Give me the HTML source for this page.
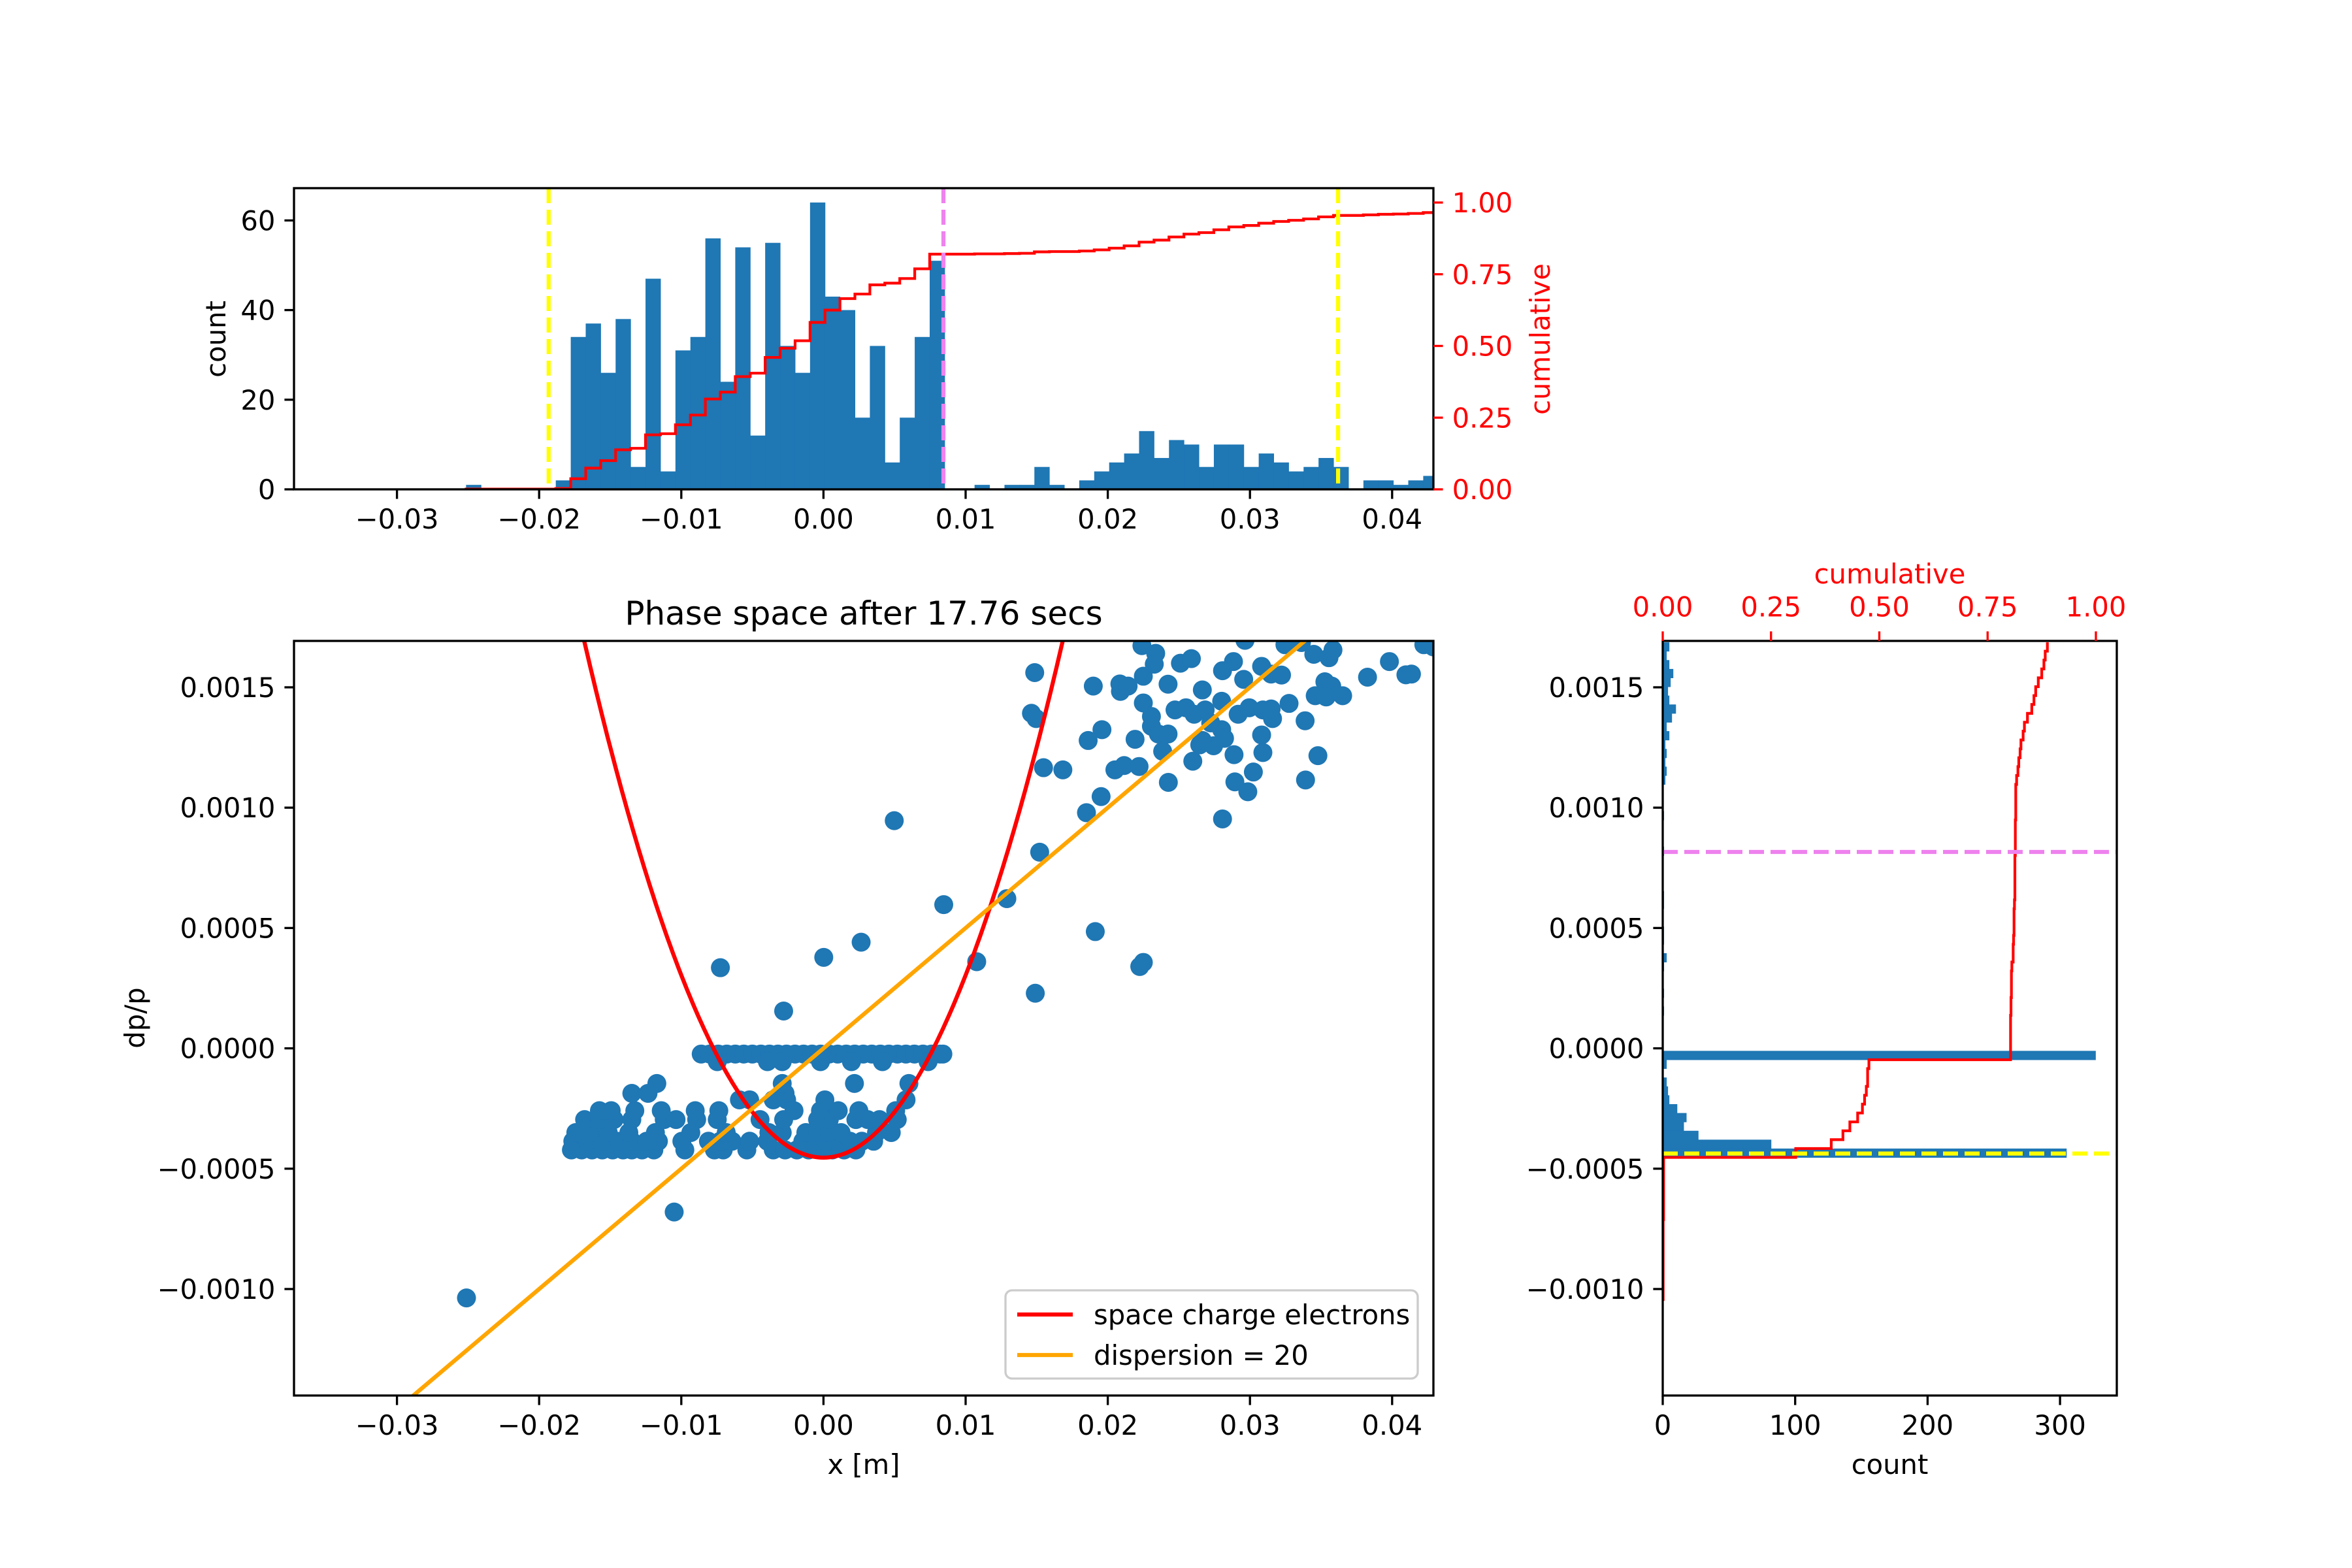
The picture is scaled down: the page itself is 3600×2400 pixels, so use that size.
<!DOCTYPE html>
<html><head><meta charset="utf-8"><style>
html,body{margin:0;padding:0;background:#fff}
svg{display:block}
text{font-family:"DejaVu Sans","Liberation Sans",sans-serif}
</style></head><body>
<svg id="fig" xmlns="http://www.w3.org/2000/svg" width="3600" height="2400" viewBox="0 0 3600 2400">
<rect x="0" y="0" width="3600" height="2400" fill="#fff"/>
<g id="layer"></g>
</svg>
<script>
// ---- data: top histogram of x ----
const xBinStart = -0.02514;
const xBinWidth = 0.001052;
const xCounts = [1,0,0,0,0,0,2,34,37,26,38,5,47,4,31,34,56,24,54,12,55,32,26,64,43,40,16,32,6,16,34,51,0,0,1,0,1,1,5,1,0,2,4,6,8,13,7,11,10,5,10,10,5,8,6,4,5,7,5,0,2,2,1,2,3];
const totalParticles = 1000;
const xThresholds = [-0.01933, 0.0362];
const xCenterLine = [0.00844];
// ---- data: right histogram of dp/p ----
const dpBinTop = 0.001687;
const dpBinWidth = 0.0000369;
const dpCounts = [5,3,5,8,6,4,5,10,7,3,5,2,3,2,3,2,0,0,0,1,0,0,0,1,0,0,0,0,1,1,0,0,1,1,0,3,1,0,0,1,0,1,0,0,0,0,327,3,0,3,4,5,11,18,16,27,82,305,0,0,0,0,0,0,1,0,0,0,0,0,0,0,0,1];
const dpThreshold = [-0.000437];
const dpCenterLine = [0.000816];
// ---- data: scatter points ----
const scatterX = [
-0.01773,-0.01701,-0.01628,-0.01556,-0.01483,-0.01410,-0.01348,-0.01276,-0.01193,-0.00975,-0.00767,-0.00705,-0.00539,-0.00353,-0.00270,-0.00187,-0.00104,-0.00021,0.00062,0.00145,0.00228,
-0.01763,-0.01659,-0.01556,-0.01452,-0.01348,-0.01244,-0.01161,-0.00996,-0.00809,-0.00726,-0.00643,-0.00519,-0.00394,-0.00145,-0.00062,0.00021,0.00104,0.00187,0.00270,0.00353,
-0.01742,-0.01638,-0.01514,-0.01369,-0.01182,-0.00933,-0.00684,-0.00384,-0.00290,-0.00124,-0.00041,0.00041,0.00124,0.00373,0.00477,
-0.01680,-0.01576,-0.01473,-0.01348,-0.01120,-0.01037,-0.00892,-0.00747,-0.00446,-0.00280,-0.00041,0.00041,0.00228,0.00311,0.00394,0.00519,
-0.01576,-0.01493,-0.01327,-0.01141,-0.00902,-0.00736,-0.00207,-0.00021,0.00104,0.00249,0.00508,
-0.00591,-0.00519,-0.00353,-0.00259,0.00010,0.00581,
-0.01348,-0.01234,-0.00270,
-0.01172,-0.00290,0.00218,0.00601,
-0.0086,-0.0080,-0.0074,-0.0068,-0.0062,-0.0056,-0.0050,-0.0044,-0.0038,-0.0032,-0.0026,-0.0020,-0.0014,-0.0008,-0.0002,0.0004,0.0010,0.0016,0.0022,0.0028,0.0034,0.0040,0.0046,0.0052,0.0058,0.0064,0.0070,0.0076,0.0082,0.0084,
-0.00747,-0.00394,-0.00290,-0.00021,0.00197,0.00415,0.00736,
-0.00280,-0.01050,-0.02511,-0.00725,0.00002,0.00265,0.00498,0.00846,0.01078,0.01290,0.01490,0.01521,0.01912,0.02250,0.02225,
0.01486,0.01463,0.01496,0.01548,0.01684,0.01898,0.02085,0.02089,0.02143,0.02250,0.02250,0.02307,0.02307,0.02356,0.02424,0.02424,0.02386,0.02426,0.02240,0.02337,0.02327,0.02511,0.02588,0.02807,0.02884,0.02956,0.02965,0.03082,0.03149,0.03222,0.03246,0.03362,0.03449,0.03556,0.03584,0.03527,0.03575,0.03459,0.03536,0.03652,0.03827,0.03981,0.04097,0.04136,0.04223,0.04290,0.02665,0.02473,0.02550,0.02607,0.02685,0.02801,0.02724,0.02801,0.02821,0.02917,0.02995,0.03091,0.03159,0.03149,0.03275,0.03388,0.03082,0.03091,0.03024,0.02894,0.02985,0.02807,0.02888,0.02598,0.02647,0.02744,0.02665,0.02192,0.01959,0.01862,0.02050,0.02115,0.02220,0.01953,0.01850,0.03391,0.03478
];
const scatterDP = [
-0.000422,-0.000422,-0.000422,-0.000422,-0.000422,-0.000422,-0.000422,-0.000422,-0.000422,-0.000422,-0.000422,-0.000422,-0.000422,-0.000422,-0.000422,-0.000422,-0.000422,-0.000422,-0.000422,-0.000422,-0.000422,
-0.000386,-0.000386,-0.000386,-0.000386,-0.000386,-0.000386,-0.000386,-0.000386,-0.000386,-0.000386,-0.000386,-0.000386,-0.000386,-0.000386,-0.000386,-0.000386,-0.000386,-0.000386,-0.000386,-0.000386,
-0.000350,-0.000350,-0.000350,-0.000350,-0.000350,-0.000350,-0.000350,-0.000350,-0.000350,-0.000350,-0.000350,-0.000350,-0.000350,-0.000350,-0.000350,
-0.000296,-0.000296,-0.000296,-0.000296,-0.000296,-0.000296,-0.000296,-0.000296,-0.000296,-0.000296,-0.000296,-0.000296,-0.000296,-0.000296,-0.000296,-0.000296,
-0.000259,-0.000259,-0.000259,-0.000259,-0.000259,-0.000259,-0.000259,-0.000259,-0.000259,-0.000259,-0.000259,
-0.000214,-0.000214,-0.000214,-0.000214,-0.000214,-0.000214,
-0.000187,-0.000187,-0.000187,
-0.000146,-0.000146,-0.000146,-0.000146,
-0.0000237,-0.0000237,-0.0000237,-0.0000237,-0.0000237,-0.0000237,-0.0000237,-0.0000237,-0.0000237,-0.0000237,-0.0000237,-0.0000237,-0.0000237,-0.0000237,-0.0000237,-0.0000237,-0.0000237,-0.0000237,-0.0000237,-0.0000237,-0.0000237,-0.0000237,-0.0000237,-0.0000237,-0.0000237,-0.0000237,-0.0000237,-0.0000237,-0.0000237,-0.0000237,
-0.0000554,-0.0000554,-0.0000554,-0.0000554,-0.0000554,-0.0000554,-0.0000554,
0.000155,-0.00068,-0.001037,0.000335,0.000378,0.000441,0.000946,0.000597,0.00036,0.000622,0.000229,0.000815,0.000485,0.000357,0.00034,
0.001561,0.001392,0.001370,0.001166,0.001157,0.001505,0.001514,0.001483,0.001505,0.001546,0.001435,0.001379,0.001338,0.001306,0.001306,0.001513,0.001234,0.001105,0.001673,0.001641,0.001596,0.001600,0.001619,0.001569,0.001607,0.001533,0.001695,0.001587,0.001555,0.001551,0.001677,0.001686,0.001637,0.001623,0.001655,0.001523,0.001505,0.001465,0.001460,0.001465,0.001542,0.001607,0.001552,0.001555,0.001677,0.001668,0.001489,0.001406,0.001415,0.001388,0.001406,0.001442,0.001352,0.001324,0.001288,0.001388,0.001415,0.001406,0.001370,0.001410,0.001433,0.001361,0.001302,0.001229,0.001148,0.001107,0.001066,0.000953,0.001220,0.001193,0.001261,0.001257,0.001279,0.001284,0.001324,0.001279,0.001157,0.001175,0.001171,0.001046,0.000979,0.001115,0.001216
];
const parabolaMinDP = -0.000454;
const parabolaCoef = 7.58;
const dispersion = 20;
const dispersionOffset = 0.0;
const xTicks = [-0.03,-0.02,-0.01,0.00,0.01,0.02,0.03,0.04];
const xTickLabels = ["\u22120.03","\u22120.02","\u22120.01","0.00","0.01","0.02","0.03","0.04"];
const dpTicks = [0.0015,0.0010,0.0005,0.0,-0.0005,-0.0010];
const dpTickLabels = ["0.0015","0.0010","0.0005","0.0000","\u22120.0005","\u22120.0010"];
const countTicks = [0,20,40,60];
const cumTicks = [0,0.25,0.5,0.75,1.0];
const cumTickLabels = ["0.00","0.25","0.50","0.75","1.00"];
const rCountTicks = [0,100,200,300];

// ---- layout ----
const L = 450, R = 2194, MT = 981, MB = 2136;
const HT = 288, HB = 749;
const RL = 2545, RR = 3240;
const FS = 41.7, TK = 14.6, LW = 3.33;
const BLUE = "#1f77b4";

const sx = x => 1260.4 + x * 21760;
const sy = d => 1604.6 - d * 368400;
const hy = c => HB - c * 6.86;
const hcum = v => HB - v * 439;
const rcx = c => RL + c * 2.027;
const rcum = v => RL + v * 663;

const NS = "http://www.w3.org/2000/svg";
const layer = document.getElementById("layer");
function mk(tag, attrs, parent) {
  const e = document.createElementNS(NS, tag);
  for (const k in attrs) e.setAttribute(k, attrs[k]);
  (parent || layer).appendChild(e);
  return e;
}
function txt(s, x, y, opts, parent) {
  const e = mk("text", Object.assign({x: x, y: y, "font-size": FS, fill: "#000"}, opts || {}), parent);
  e.textContent = s;
  return e;
}
function clip(id, x, y, w, h) {
  const c = mk("clipPath", {id: id});
  mk("rect", {x: x, y: y, width: w, height: h}, c);
}
clip("cTop", L, HT, R - L, HB - HT);
clip("cMain", L, MT, R - L, MB - MT);
clip("cRight", RL, MT, RR - RL, MB - MT);

// ================= TOP HISTOGRAM =================
const gTop = mk("g", {"clip-path": "url(#cTop)"});


xCounts.forEach((c, i) => {
  if (c <= 0) return;
  const x0 = sx(xBinStart + i * xBinWidth), x1 = sx(xBinStart + (i + 1) * xBinWidth);
  const r = mk("rect", {x: x0, y: hy(c), width: x1 - x0 + 0.5, height: HB - hy(c), fill: BLUE}, gTop);
  
  
});
let cum = 0, pts = [[sx(xBinStart), hcum(0)]];
xCounts.forEach((c, i) => {
  cum += c;
  const x0 = sx(xBinStart + i * xBinWidth), x1 = sx(xBinStart + (i + 1) * xBinWidth);
  pts.push([x0, hcum(cum / totalParticles)]);
  pts.push([x1, hcum(cum / totalParticles)]);
});
const cumTop = mk("polyline", {points: pts.map(p => p.join(",")).join(" "), fill: "none", stroke: "#ff0000", "stroke-width": 4.17}, gTop);


xThresholds.forEach(v => {
  const l = mk("line", {x1: sx(v), x2: sx(v), y1: HT, y2: HB, stroke: "#ffff00", "stroke-width": 6.25, "stroke-dasharray": "23 10"}, gTop);
  
  
});
xCenterLine.forEach(v => {
  const l = mk("line", {x1: sx(v), x2: sx(v), y1: HT, y2: HB, stroke: "#ee82ee", "stroke-width": 6.25, "stroke-dasharray": "23 10"}, gTop);
  
  
});
const topFrame = mk("rect", {x: L, y: HT, width: R - L, height: HB - HT, fill: "none", stroke: "#000", "stroke-width": LW});


xTicks.forEach((v, i) => {
  mk("line", {x1: sx(v), x2: sx(v), y1: HB, y2: HB + TK, stroke: "#000", "stroke-width": LW});
  const t = txt(xTickLabels[i], sx(v), HB + 60, {"text-anchor": "middle"});
  
  
});
countTicks.forEach(v => {
  mk("line", {x1: L - TK, x2: L, y1: hy(v), y2: hy(v), stroke: "#000", "stroke-width": LW});
  const t = txt(String(v), L - TK - 14, hy(v) + 15, {"text-anchor": "end"});
  
  
});
cumTicks.forEach((v, i) => {
  mk("line", {x1: R, x2: R + TK, y1: hcum(v), y2: hcum(v), stroke: "#ff0000", "stroke-width": LW});
  const t = txt(cumTickLabels[i], R + TK + 14, hcum(v) + 15, {"text-anchor": "start", fill: "#ff0000"});
  
  
});
const topYl = txt("count", 0, 0, {"text-anchor": "middle", transform: "translate(345,519) rotate(-90)"});


const topYr = txt("cumulative", 0, 0, {"text-anchor": "middle", fill: "#ff0000", transform: "translate(2372,519) rotate(-90)"});



// ================= MAIN SCATTER =================
const gMain = mk("g", {"clip-path": "url(#cMain)"});


scatterX.forEach((x, i) => {
  const c = mk("circle", {cx: sx(x), cy: sy(scatterDP[i]), r: 14.5, fill: BLUE}, gMain);
  
  
});
let pp = [];
for (let k = 0; k <= 200; k++) {
  const x = -0.02 + k * 0.0002;
  pp.push(sx(x).toFixed(1) + "," + sy(parabolaMinDP + parabolaCoef * x * x).toFixed(1));
}
const para = mk("polyline", {points: pp.join(" "), fill: "none", stroke: "#ff0000", "stroke-width": 6.25}, gMain);


const dl = mk("line", {x1: sx(-0.04), y1: sy(-0.04 / dispersion + dispersionOffset), x2: sx(0.045), y2: sy(0.045 / dispersion + dispersionOffset), stroke: "#ffa500", "stroke-width": 6.25}, gMain);


const mainFrame = mk("rect", {x: L, y: MT, width: R - L, height: MB - MT, fill: "none", stroke: "#000", "stroke-width": LW});


xTicks.forEach((v, i) => {
  mk("line", {x1: sx(v), x2: sx(v), y1: MB, y2: MB + TK, stroke: "#000", "stroke-width": LW});
  const t = txt(xTickLabels[i], sx(v), MB + 60, {"text-anchor": "middle"});
  
  
});
dpTicks.forEach((v, i) => {
  mk("line", {x1: L - TK, x2: L, y1: sy(v), y2: sy(v), stroke: "#000", "stroke-width": LW});
  const t = txt(dpTickLabels[i], L - TK - 14, sy(v) + 15, {"text-anchor": "end"});
  
  
  mk("line", {x1: RL - TK, x2: RL, y1: sy(v), y2: sy(v), stroke: "#000", "stroke-width": LW});
  const t2 = txt(dpTickLabels[i], RL - TK - 14, sy(v) + 15, {"text-anchor": "end"});
  
  
});
const title = txt("Phase space after 17.76 secs", (L + R) / 2, 956, {"text-anchor": "middle", "font-size": 50});


const xl = txt("x [m]", (L + R) / 2, 2256, {"text-anchor": "middle"});


const yl = txt("dp/p", 0, 0, {"text-anchor": "middle", transform: "translate(221,1558) rotate(-90)"});



// legend
const lg = mk("g", {});


mk("rect", {x: 1539, y: 1975, width: 631, height: 135, rx: 10, fill: "#fff", "fill-opacity": 0.8, stroke: "#cccccc", "stroke-width": 3.33}, lg);
const le1 = mk("line", {x1: 1557, x2: 1642, y1: 2012, y2: 2012, stroke: "#ff0000", "stroke-width": 6.25}, lg);


const lt1 = txt("space charge electrons", 1674, 2027, {}, lg);


const le2 = mk("line", {x1: 1557, x2: 1642, y1: 2074, y2: 2074, stroke: "#ffa500", "stroke-width": 6.25}, lg);


const lt2 = txt("dispersion = 20", 1674, 2089, {}, lg);



// ================= RIGHT HISTOGRAM =================
const gR = mk("g", {"clip-path": "url(#cRight)"});


dpCounts.forEach((c, k) => {
  if (c <= 0) return;
  const yTop = sy(dpBinTop - k * dpBinWidth), yBot = sy(dpBinTop - (k + 1) * dpBinWidth);
  const r = mk("rect", {x: RL, y: yTop, width: rcx(c) - RL, height: yBot - yTop + 0.5, fill: BLUE}, gR);
  
  
});
let lastK = 0;
dpCounts.forEach((c, k) => { if (c > 0) lastK = k; });
let rc = 0, rp = [[rcum(0), sy(dpBinTop - (lastK + 1) * dpBinWidth)]];
for (let k = lastK; k >= 0; k--) {
  rc += dpCounts[k];
  const yBot = sy(dpBinTop - (k + 1) * dpBinWidth), yTop = sy(dpBinTop - k * dpBinWidth);
  rp.push([rcum(rc / totalParticles), yBot]);
  rp.push([rcum(rc / totalParticles), yTop]);
}
const rcl = mk("polyline", {points: rp.map(p => p.join(",")).join(" "), fill: "none", stroke: "#ff0000", "stroke-width": 4.17}, gR);


dpCenterLine.forEach(v => {
  const l = mk("line", {x1: RL, x2: RR, y1: sy(v), y2: sy(v), stroke: "#ee82ee", "stroke-width": 6.25, "stroke-dasharray": "23 10"}, gR);
  
  
});
dpThreshold.forEach(v => {
  const l = mk("line", {x1: RL, x2: RR, y1: sy(v), y2: sy(v), stroke: "#ffff00", "stroke-width": 6.25, "stroke-dasharray": "23 10"}, gR);
  
  
});
const rFrame = mk("rect", {x: RL, y: MT, width: RR - RL, height: MB - MT, fill: "none", stroke: "#000", "stroke-width": LW});


rCountTicks.forEach(v => {
  mk("line", {x1: rcx(v), x2: rcx(v), y1: MB, y2: MB + TK, stroke: "#000", "stroke-width": LW});
  const t = txt(String(v), rcx(v), MB + 60, {"text-anchor": "middle"});
  
  
});
cumTicks.forEach((v, i) => {
  mk("line", {x1: rcum(v), x2: rcum(v), y1: MT - TK, y2: MT, stroke: "#ff0000", "stroke-width": LW});
  const t = txt(cumTickLabels[i], rcum(v), MT - TK - 23, {"text-anchor": "middle", fill: "#ff0000"});
  
  
});
const rxl = txt("count", (RL + RR) / 2, 2256, {"text-anchor": "middle"});


const rtl = txt("cumulative", (RL + RR) / 2, 893, {"text-anchor": "middle", fill: "#ff0000"});


</script>
</body></html>
